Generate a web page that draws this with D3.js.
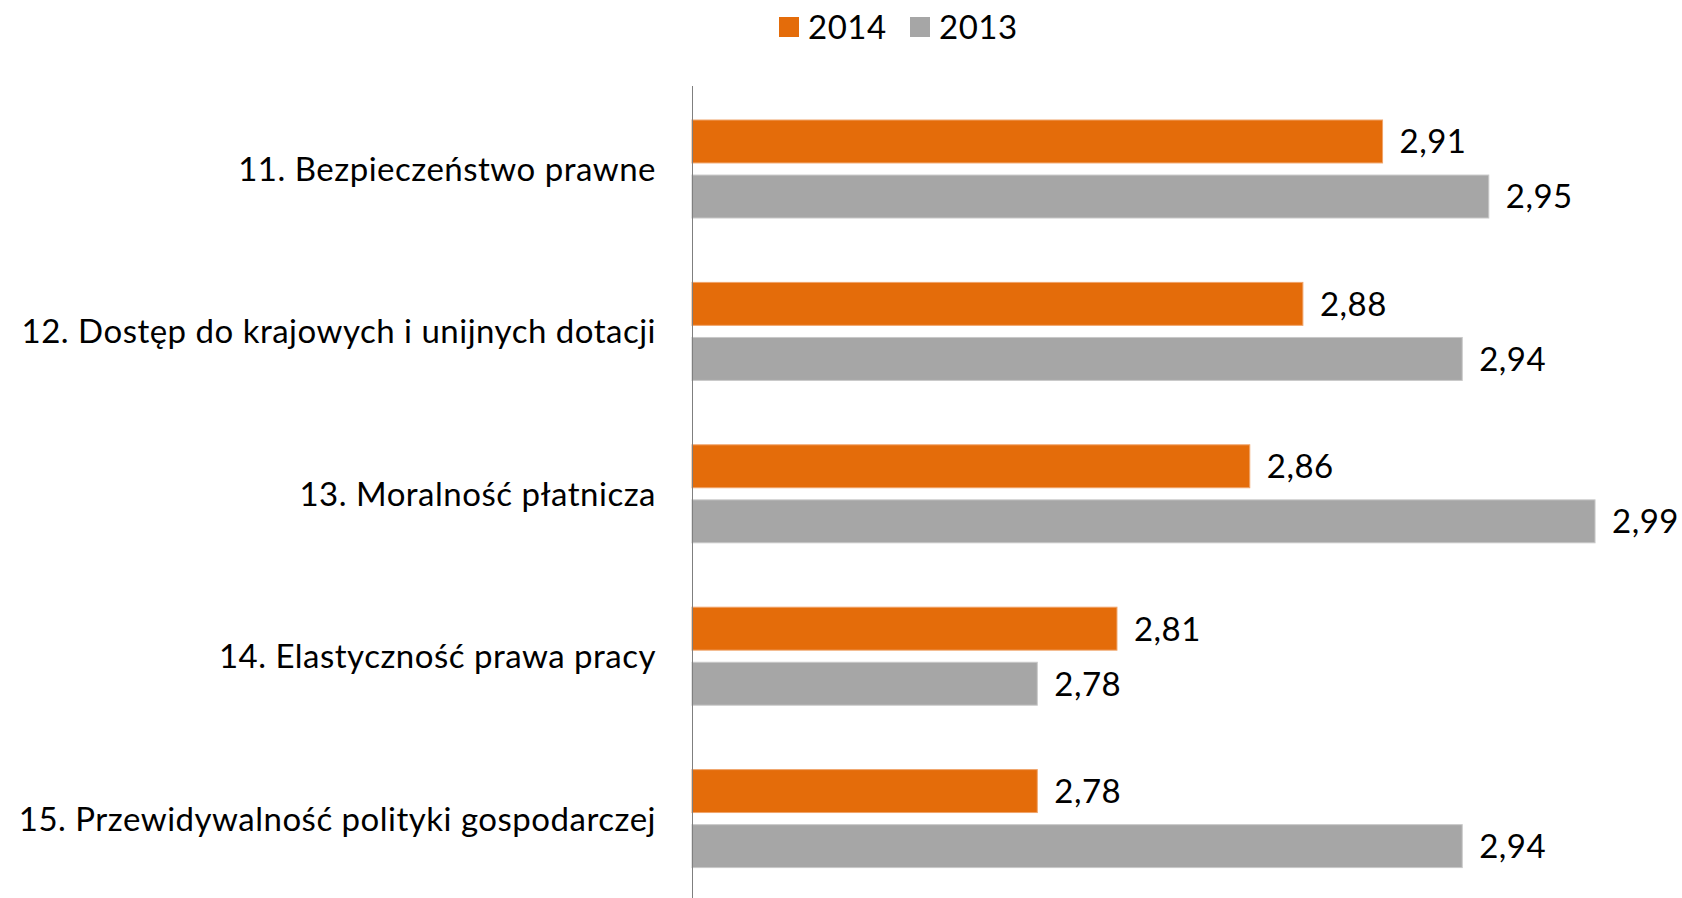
<!DOCTYPE html>
<html><head><meta charset="utf-8">
<script src="https://cdn.jsdelivr.net/npm/d3@7"></script>
<style>body{margin:0;background:#fff;} text{font-family:Lato,"Open Sans",sans-serif;fill:#000;letter-spacing:0.5px;}</style>
</head><body>
<svg id="c" width="1682" height="898"></svg>
<script>
const categories = ["11. Bezpieczeństwo prawne","12. Dostęp do krajowych i unijnych dotacji","13. Moralność płatnicza","14. Elastyczność prawa pracy","15. Przewidywalność polityki gospodarczej"];
const series = ["2014","2013"];
const values2014 = [2.91,2.88,2.86,2.81,2.78];
const values2013 = [2.95,2.94,2.99,2.78,2.94];
const colors = ["#E46C0A","#A6A6A6"];
const strokes = ["#F0A46A","#C8C8C8"];

const svg = d3.select("#c");
const x0 = 692;
const x = d3.scaleLinear().domain([2.65,3.0]).range([x0, x0 + 0.35*2656]);
const y = d3.scaleBand().domain(categories).range([86,898]).paddingInner(0).paddingOuter(0);
const sub = d3.scaleBand().domain(series).range([34,132]).paddingInner(0.22);
const fmt = v => d3.format(".2f")(v).replace(".", ",");
const fs = 33;

const data = categories.map((c,i)=>({c, vals:[values2014[i], values2013[i]]}));
const g = svg.selectAll("g.cat").data(data).enter().append("g").attr("class","cat")
  .attr("transform", d=>`translate(0,${y(d.c)})`);
series.forEach((s,si)=>{
  g.append("rect").attr("x", x0).attr("y", sub(s)).attr("height", sub.bandwidth())
    .attr("width", d=>x(d.vals[si])-x0).attr("fill", colors[si])
    .attr("stroke", strokes[si]).attr("stroke-width",1);
  g.append("text").attr("x", d=>x(d.vals[si])+17).attr("y", sub(s)+sub.bandwidth()/2)
    .attr("dy","0.36em").attr("font-size",fs).text(d=>fmt(d.vals[si]));
});
g.append("text").attr("x",656).attr("y", y.bandwidth()/2+2).attr("dy","0.36em")
  .attr("text-anchor","end").attr("font-size",fs).text(d=>d.c);

svg.append("line").attr("x1",x0+0.5).attr("x2",x0+0.5).attr("y1",86).attr("y2",898)
  .attr("stroke","#7F7F7F").attr("stroke-width",1);

// legend
const leg = svg.append("g");
const legX = [779, 910];
series.forEach((s,i)=>{
  leg.append("rect").attr("x",legX[i]).attr("y",17).attr("width",20).attr("height",20).attr("fill",colors[i]);
  leg.append("text").attr("x",legX[i]+29).attr("y",27).attr("dy","0.36em").attr("font-size",fs).text(s);
});
</script>
</body></html>
